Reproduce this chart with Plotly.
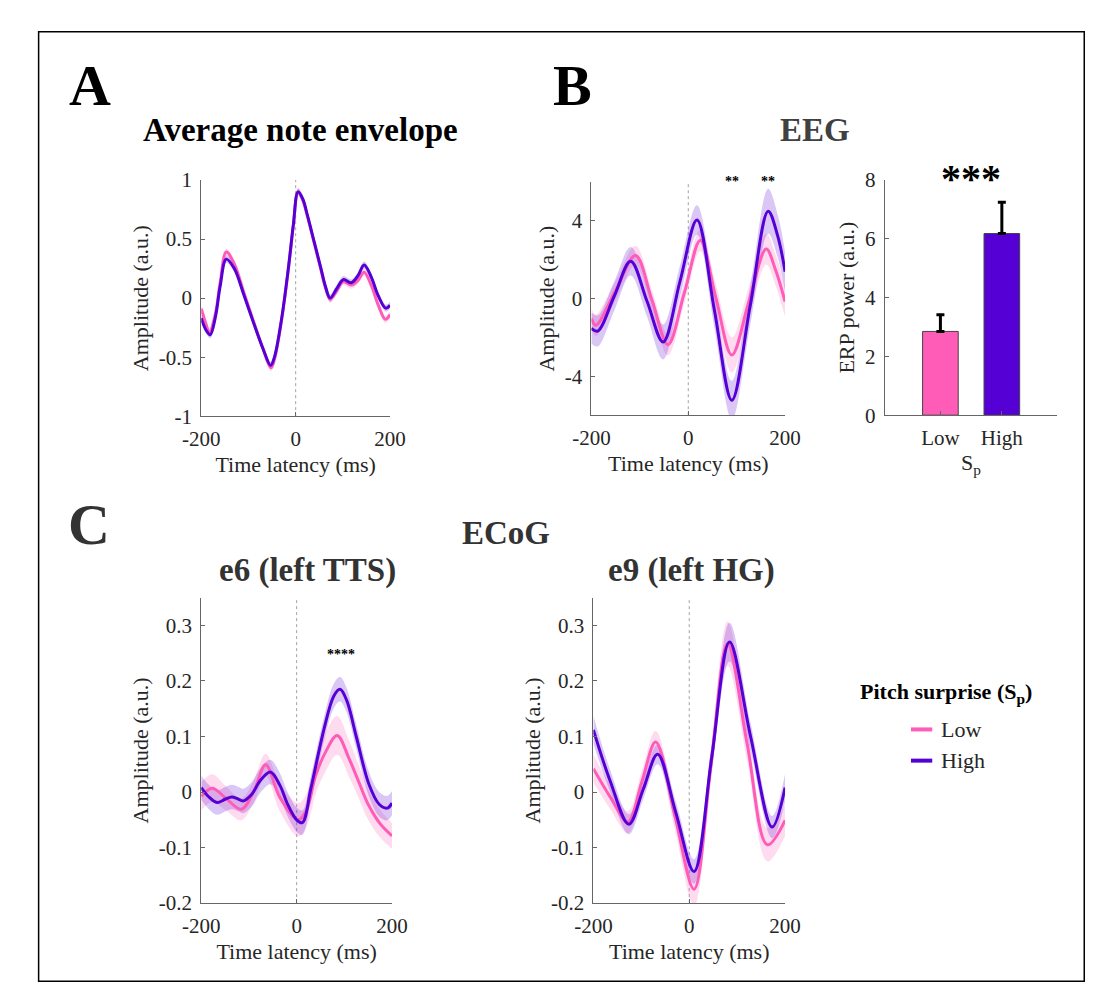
import plotly.graph_objects as go

W, H = 1100, 992
FONT = "Liberation Serif"
PINK = "#FF5CB8"
BLUE = "#5500D5"
PINK_F = "rgba(255,92,184,0.22)"
BLUE_F = "rgba(85,0,213,0.22)"

# ---------------- data ----------------
# Panel A: average note envelope
a_high_t = [-200,-190,-181,-170,-160,-147,-130,-110,-90,-70,-53,-45,-30,-15,-5,5,15,25,39,53,63,73,87,101,118,132,145,160,175,191,200]
a_high_y = [-0.17,-0.27,-0.31,-0.16,0.10,0.33,0.25,0.03,-0.20,-0.42,-0.57,-0.50,-0.18,0.27,0.62,0.90,0.84,0.70,0.48,0.26,0.10,0.00,0.08,0.157,0.13,0.19,0.28,0.18,0.02,-0.085,-0.06]
a_high_e = [0.03]*31
a_low_t = [-200,-190,-183,-170,-160,-147,-130,-110,-90,-70,-52,-45,-30,-15,-5,5,15,25,39,53,63,73,87,101,118,132,145,160,175,190,200]
a_low_y = [-0.09,-0.22,-0.29,-0.13,0.13,0.39,0.29,0.05,-0.19,-0.42,-0.59,-0.52,-0.19,0.26,0.61,0.90,0.83,0.69,0.47,0.25,0.09,-0.01,0.06,0.14,0.11,0.15,0.22,0.11,-0.06,-0.18,-0.14]
a_low_e = [0.03]*31

# Panel B: EEG
b_high_t = [-200,-187,-153,-119,-85,-52,-17,18,54,90,128,165,185,200]
b_high_y = [-1.53,-1.67,0.12,1.92,-0.15,-2.23,0.90,4.05,-0.60,-5.23,-0.36,4.50,3.20,1.38]
b_high_e = [0.8,0.8,0.75,0.73,0.8,0.9,0.8,0.75,0.9,1.0,1.0,1.15,1.1,1.0]
b_low_t = [-200,-191,-150,-109,-75,-42,-8,25,57,90,125,161,180,200]
b_low_y = [-1.03,-1.37,0.42,2.22,-0.07,-2.37,0.31,3.00,0.05,-2.90,-0.17,2.55,1.50,-0.15]
b_low_e = [0.55,0.55,0.5,0.5,0.5,0.55,0.55,0.55,0.7,0.9,0.75,0.8,0.8,0.8]

# Bar chart: ERP power
bar_cats = ["Low", "High"]
bar_vals = [2.85, 6.18]
bar_err = [0.57, 1.06]

# Panel C: ECoG e6 (left TTS)
e6_high_t = [-200,-185,-167,-150,-136,-124,-112,-95,-75,-55,-35,-20,0,12,30,57,78,91,105,125,152,173,190,200]
e6_high_y = [0.008,-0.008,-0.019,-0.013,-0.009,-0.012,-0.016,-0.005,0.022,0.036,0.012,-0.02,-0.05,-0.055,0.007,0.112,0.173,0.185,0.165,0.10,0.013,-0.022,-0.029,-0.02]
e6_high_e = [0.022]*24
e6_low_t = [-200,-177,-150,-116,-90,-65,-35,3,20,40,60,85,110,130,150,175,200]
e6_low_y = [-0.008,0.007,-0.01,-0.031,0.001,0.049,-0.01,-0.05,-0.034,0.03,0.071,0.102,0.06,0.019,-0.022,-0.057,-0.079]
e6_low_e = [0.025,0.025,0.022,0.02,0.02,0.02,0.025,0.03,0.03,0.033,0.035,0.035,0.033,0.03,0.028,0.025,0.023]

# Panel C: ECoG e9 (left HG)
e9_high_t = [-200,-165,-126,-96,-66,-28,10,47,84,128,173,200]
e9_high_y = [0.112,0.02,-0.058,0.005,0.068,-0.037,-0.143,0.063,0.27,0.10,-0.063,0.008]
e9_high_e = [0.025,0.02,0.018,0.018,0.018,0.02,0.022,0.025,0.035,0.025,0.02,0.025]
e9_low_t = [-200,-164,-128,-99,-70,-30,10,45,80,121,163,200]
e9_low_y = [0.042,-0.01,-0.054,0.018,0.09,-0.043,-0.175,0.046,0.267,0.086,-0.095,-0.051]
e9_low_e = [0.025,0.022,0.02,0.02,0.02,0.025,0.03,0.03,0.04,0.03,0.03,0.028]

x_ticks = [-200, 0, 200]
x_ticktext = ["-200", "0", "200"]

# ---------------- figure ----------------
fig = go.Figure()

def px(x):
    return x / W

def py(y):
    return 1 - y / H

def band(t, y, e, fillcol, xa, ya):
    lo = [a - b for a, b in zip(y, e)]
    hi = [a + b for a, b in zip(y, e)]
    fig.add_trace(go.Scatter(x=t, y=lo, mode="lines", line=dict(width=0, shape="spline"),
                             xaxis=xa, yaxis=ya, showlegend=False, hoverinfo="skip"))
    fig.add_trace(go.Scatter(x=t, y=hi, mode="lines", line=dict(width=0, shape="spline"),
                             fill="tonexty", fillcolor=fillcol,
                             xaxis=xa, yaxis=ya, showlegend=False, hoverinfo="skip"))

def line(t, y, col, xa, ya, name):
    fig.add_trace(go.Scatter(x=t, y=y, mode="lines", line=dict(color=col, width=3, shape="spline"),
                             xaxis=xa, yaxis=ya, showlegend=False, name=name))

panels = [
    ("x", "y", a_low_t, a_low_y, a_low_e, a_high_t, a_high_y, a_high_e),
    ("x2", "y2", b_low_t, b_low_y, b_low_e, b_high_t, b_high_y, b_high_e),
    ("x4", "y4", e6_low_t, e6_low_y, e6_low_e, e6_high_t, e6_high_y, e6_high_e),
    ("x5", "y5", e9_low_t, e9_low_y, e9_low_e, e9_high_t, e9_high_y, e9_high_e),
]
for xa, ya, lt, ly, le, ht, hy, he in panels:
    band(lt, ly, le, PINK_F, xa, ya)
    band(ht, hy, he, BLUE_F, xa, ya)
    line(lt, ly, PINK, xa, ya, "Low")
    line(ht, hy, BLUE, xa, ya, "High")
    fig.add_shape(type="line", xref=xa, yref=ya + " domain", x0=0, x1=0, y0=0, y1=1,
                  line=dict(color="#8a8a8a", width=0.8, dash="dot"), layer="below")

# bars
fig.add_trace(go.Bar(x=[1, 2], y=bar_vals, width=0.58,
                     marker=dict(color=[PINK, BLUE], line=dict(color="#444", width=1)),
                     error_y=dict(type="data", array=bar_err, arrayminus=[0, 0], symmetric=False,
                                  color="black", thickness=3, width=4),
                     xaxis="x3", yaxis="y3", showlegend=False))

tickfont = dict(family=FONT, size=21, color="#262626")
titlefont = dict(family=FONT, size=22, color="#262626")
axcommon = dict(showline=True, linecolor="#666", linewidth=1, ticks="inside", ticklen=4,
                tickcolor="#666", showgrid=False, zeroline=False, tickfont=tickfont,
                ticklabelstandoff=4, mirror=False)

def dom_x(a, b):
    return [px(a), px(b)]

def dom_y(top, bot):
    return [py(bot), py(top)]

c_ticks = [-0.2, -0.1, 0, 0.1, 0.2, 0.3]
c_ticktext = ["-0.2", "-0.1", "0", "0.1", "0.2", "0.3"]

layout = dict(
    width=W, height=H, margin=dict(l=0, r=0, t=0, b=0),
    paper_bgcolor="white", plot_bgcolor="white", showlegend=False,
    font=dict(family=FONT),
    xaxis=dict(domain=dom_x(180, 375), range=[-200, 200], tickvals=x_ticks, ticktext=x_ticktext,
               title=dict(text="Time latency (ms)", font=titlefont, standoff=6), anchor="y", **axcommon),
    yaxis=dict(domain=dom_y(164, 406), range=[-1, 1], tickvals=[-1, -0.5, 0, 0.5, 1],
               ticktext=["-1", "-0.5", "0", "0.5", "1"],
               title=dict(text="Amplitude (a.u.)", font=titlefont, standoff=4), anchor="x", **axcommon),
    xaxis2=dict(domain=dom_x(583, 783), range=[-200, 200], tickvals=x_ticks, ticktext=x_ticktext,
                title=dict(text="Time latency (ms)", font=titlefont, standoff=6), anchor="y2", **axcommon),
    yaxis2=dict(domain=dom_y(166, 405), range=[-6, 6], tickvals=[-4, 0, 4],
                ticktext=["-4", "0", "4"],
                title=dict(text="Amplitude (a.u.)", font=titlefont, standoff=4), anchor="x2", **axcommon),
    xaxis3=dict(domain=dom_x(886, 1064), range=[0.095, 2.9], tickvals=[1, 2], ticktext=bar_cats,
                title=dict(text="S<sub>p</sub>", font=titlefont, standoff=4), anchor="y3", **axcommon),
    yaxis3=dict(domain=dom_y(164, 405), range=[0, 8], tickvals=[0, 2, 4, 6, 8],
                title=dict(text="ERP power (a.u.)", font=titlefont, standoff=4), anchor="x3", **axcommon),
    xaxis4=dict(domain=dom_x(180, 377), range=[-200, 200], tickvals=x_ticks, ticktext=x_ticktext,
                title=dict(text="Time latency (ms)", font=titlefont, standoff=6), anchor="y4", **axcommon),
    yaxis4=dict(domain=dom_y(592, 905), range=[-0.2, 0.35], tickvals=c_ticks, ticktext=c_ticktext,
                title=dict(text="Amplitude (a.u.)", font=titlefont, standoff=4), anchor="x4", **axcommon),
    xaxis5=dict(domain=dom_x(585, 783), range=[-200, 200], tickvals=x_ticks, ticktext=x_ticktext,
                title=dict(text="Time latency (ms)", font=titlefont, standoff=6), anchor="y5", **axcommon),
    yaxis5=dict(domain=dom_y(592, 905), range=[-0.2, 0.35], tickvals=c_ticks, ticktext=c_ticktext,
                title=dict(text="Amplitude (a.u.)", font=titlefont, standoff=4), anchor="x5", **axcommon),
)
fig.update_layout(**layout)

def label(text, x, y, size, color="black", bold=True):
    fig.add_annotation(text=("<b>%s</b>" % text) if bold else text, x=px(x), y=py(y),
                       xref="paper", yref="paper", showarrow=False,
                       font=dict(family=FONT, size=size, color=color),
                       xanchor="center", yanchor="middle")

label("A", 65, 67, 58)
label("B", 563, 67, 58)
label("C", 64, 517, 58, color="#333")
label("Average note envelope", 283, 113, 33)
label("EEG", 814, 113, 33, color="#404040")
label("ECoG", 495, 526, 33, color="#333")
label("e6 (left TTS)", 290, 564, 33, color="#333")
label("e9 (left HG)", 686, 564, 33, color="#333")
label("***", 975, 162, 40)
# significance marks in time panels
fig.add_annotation(text="<b>**</b>", x=90, xref="x2", y=py(156), yref="paper", showarrow=False,
                   font=dict(family=FONT, size=14, color="black"))
fig.add_annotation(text="<b>**</b>", x=165, xref="x2", y=py(156), yref="paper", showarrow=False,
                   font=dict(family=FONT, size=14, color="black"))
fig.add_annotation(text="<b>****</b>", x=92, xref="x4", y=0.248, yref="y4", showarrow=False,
                   font=dict(family=FONT, size=14, color="black"))

# legend (drawn manually)
label("Pitch surprise (S<sub>p</sub>)", 949, 690, 22)
for name, col, yy in [("Low", PINK, 727), ("High", BLUE, 759)]:
    fig.add_shape(type="line", xref="paper", yref="paper", x0=px(913), x1=px(935), y0=py(yy), y1=py(yy),
                  line=dict(color=col, width=4))
    fig.add_annotation(text=name, x=px(942), y=py(yy), xref="paper", yref="paper", showarrow=False,
                       xanchor="left", yanchor="middle", font=dict(family=FONT, size=22, color="#262626"))

# outer frame
fig.add_shape(type="rect", xref="paper", yref="paper", x0=px(12), x1=px(1092), y0=py(985), y1=py(12),
              line=dict(color="black", width=1.5))

fig.write_html("out.html")
